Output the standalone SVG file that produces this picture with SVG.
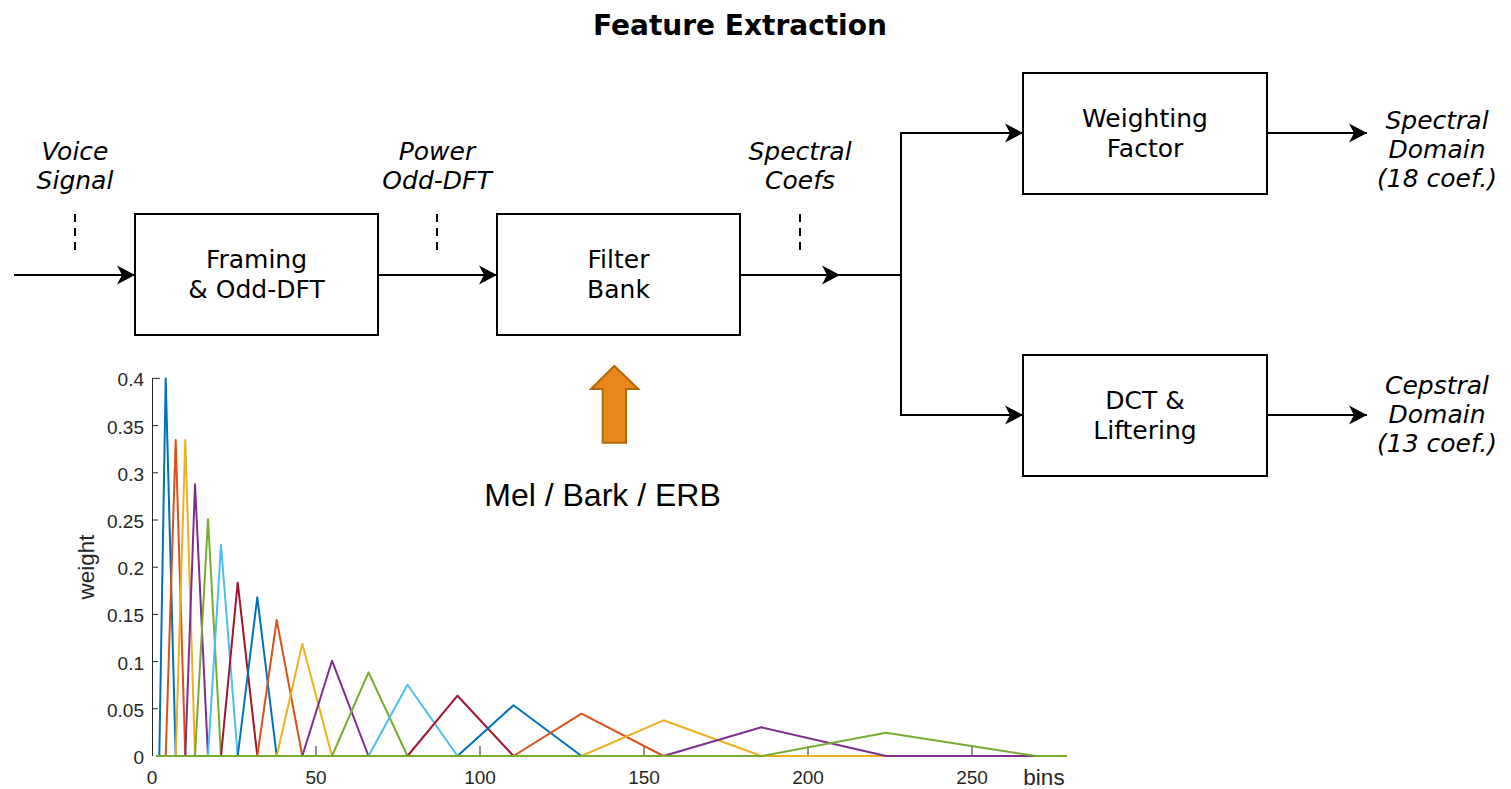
<svg xmlns="http://www.w3.org/2000/svg" width="1511" height="789" viewBox="0 0 1511 789">
<style>
.box{fill:#fff;stroke:#000;stroke-width:2}
.bt{font-family:"DejaVu Sans",Verdana,sans-serif;font-size:25px;text-anchor:middle;fill:#000}
.it{font-family:"DejaVu Sans",Verdana,sans-serif;font-size:25px;font-style:italic;text-anchor:middle;fill:#000}
.con{fill:none;stroke:#000;stroke-width:2}
.dash{fill:none;stroke:#000;stroke-width:2;stroke-dasharray:8 6}
.ax{fill:none;stroke:#262626;stroke-width:1}
.tl{font-family:"Liberation Sans",Arial,sans-serif;font-size:19px;fill:#262626}
.al{font-family:"Liberation Sans",Arial,sans-serif;font-size:22.5px;fill:#262626;text-anchor:middle}
.f{fill:none;stroke-width:2;stroke-linejoin:round}
</style>
<defs>
<marker id="ah" markerUnits="userSpaceOnUse" markerWidth="20" markerHeight="20" refX="18" refY="10" orient="auto">
<path d="M0,0.5 L18,10 L0,19.5 L5,10 Z" fill="#000"/>
</marker>
</defs>
<rect width="1511" height="789" fill="#fff"/>
<text x="740" y="35" font-family="'DejaVu Sans',Verdana,sans-serif" font-size="28" font-weight="bold" text-anchor="middle">Feature Extraction</text>

<g id="connectors">
<line class="con" x1="14" y1="275" x2="135" y2="275" marker-end="url(#ah)"/>
<line class="con" x1="378" y1="275" x2="497" y2="275" marker-end="url(#ah)"/>
<line class="con" x1="740" y1="275" x2="840" y2="275" marker-end="url(#ah)"/>
<polyline class="con" points="838,275 901,275"/>
<polyline class="con" points="901,275 901,133 1023,133" marker-end="url(#ah)"/>
<polyline class="con" points="901,275 901,415 1023,415" marker-end="url(#ah)"/>
<line class="con" x1="1267" y1="133" x2="1367" y2="133" marker-end="url(#ah)"/>
<line class="con" x1="1267" y1="415" x2="1367" y2="415" marker-end="url(#ah)"/>
<line class="dash" x1="75" y1="214" x2="75" y2="255"/>
<line class="dash" x1="437" y1="214" x2="437" y2="255"/>
<line class="dash" x1="800" y1="214" x2="800" y2="255"/>
</g>

<g id="framing">
<rect class="box" x="135" y="214" width="243" height="121"/>
<text class="bt" x="256.5" y="268">Framing</text>
<text class="bt" x="256.5" y="298">&amp; Odd-DFT</text>
</g>
<g id="filterbank">
<rect class="box" x="497" y="214" width="243" height="121"/>
<text class="bt" x="618.5" y="268">Filter</text>
<text class="bt" x="618.5" y="298">Bank</text>
</g>
<g id="weighting">
<rect class="box" x="1023" y="73" width="244" height="121"/>
<text class="bt" x="1145" y="127">Weighting</text>
<text class="bt" x="1145" y="157">Factor</text>
</g>
<g id="dct">
<rect class="box" x="1023" y="355" width="244" height="121"/>
<text class="bt" x="1145" y="409">DCT &amp;</text>
<text class="bt" x="1145" y="439">Liftering</text>
</g>

<g id="label-voice">
<text class="it" x="75" y="160">Voice</text>
<text class="it" x="75" y="189">Signal</text>
</g>
<g id="label-power">
<text class="it" x="437" y="160">Power</text>
<text class="it" x="437" y="189">Odd-DFT</text>
</g>
<g id="label-spectral-coefs">
<text class="it" x="800" y="160">Spectral</text>
<text class="it" x="800" y="189">Coefs</text>
</g>
<g id="label-spectral-domain">
<text class="it" x="1437" y="129">Spectral</text>
<text class="it" x="1437" y="158">Domain</text>
<text class="it" x="1437" y="187">(18 coef.)</text>
</g>
<g id="label-cepstral-domain">
<text class="it" x="1437" y="394">Cepstral</text>
<text class="it" x="1437" y="423">Domain</text>
<text class="it" x="1437" y="452">(13 coef.)</text>
</g>

<g id="scale-arrow">
<path d="M614.3,366 L638.3,389 L626,389 L626,442.7 L602.7,442.7 L602.7,389 L591,389 Z" fill="#e8881b" stroke="#b46504" stroke-width="2" stroke-linejoin="miter"/>
<text x="602.5" y="506" font-family="'Liberation Sans',Arial,sans-serif" font-size="32" text-anchor="middle" fill="#000">Mel / Bark / ERB</text>
</g>

<g id="chart">
<line class="ax" x1="152.5" y1="378" x2="152.5" y2="756"/>
<g class="ax">
<line x1="152.5" y1="378.4" x2="160" y2="378.4"/>
<line x1="152.5" y1="425.6" x2="158" y2="425.6"/>
<line x1="152.5" y1="472.8" x2="158" y2="472.8"/>
<line x1="152.5" y1="520" x2="158" y2="520"/>
<line x1="152.5" y1="567.2" x2="158" y2="567.2"/>
<line x1="152.5" y1="614.4" x2="158" y2="614.4"/>
<line x1="152.5" y1="661.6" x2="158" y2="661.6"/>
<line x1="152.5" y1="708.8" x2="158" y2="708.8"/>
<line x1="316" y1="746" x2="316" y2="756"/>
<line x1="480" y1="746" x2="480" y2="756"/>
<line x1="644" y1="746" x2="644" y2="756"/>
<line x1="808" y1="746" x2="808" y2="756"/>
<line x1="972" y1="746" x2="972" y2="756"/>
</g>
<g class="tl" text-anchor="end">
<text x="144" y="386">0.4</text>
<text x="144" y="433.5">0.35</text>
<text x="144" y="480.5">0.3</text>
<text x="144" y="528">0.25</text>
<text x="144" y="575">0.2</text>
<text x="144" y="622">0.15</text>
<text x="144" y="669.5">0.1</text>
<text x="144" y="716.5">0.05</text>
<text x="144" y="764">0</text>
</g>
<g class="tl" text-anchor="middle">
<text x="152" y="784">0</text>
<text x="316" y="784">50</text>
<text x="480" y="784">100</text>
<text x="644" y="784">150</text>
<text x="808" y="784">200</text>
<text x="972" y="784">250</text>
</g>
<text class="al" x="1044" y="785">bins</text>
<text class="al" transform="translate(94,567) rotate(-90)">weight</text>

<polyline class="f" stroke="#0072bd" points="156,756 159.3,756 165.7,378.4 175.7,756 1067,756"/>
<polyline class="f" stroke="#d95319" points="156,756 165.7,756 175.7,440 185.3,756 1067,756"/>
<polyline class="f" stroke="#edb120" points="156,756 175.7,756 185.3,440 195,756 1067,756"/>
<polyline class="f" stroke="#7e2f8e" points="156,756 185.3,756 195,484.3 208,756 1067,756"/>
<polyline class="f" stroke="#77ac30" points="156,756 195,756 208,519.3 221,756 1067,756"/>
<polyline class="f" stroke="#4dbeee" points="156,756 208,756 221,545 237.7,756 1067,756"/>
<polyline class="f" stroke="#a2142f" points="156,756 221,756 237.7,582.7 257.3,756 1067,756"/>
<polyline class="f" stroke="#0072bd" points="156,756 237.7,756 257.3,597.3 276.7,756 1067,756"/>
<polyline class="f" stroke="#d95319" points="156,756 257.3,756 276.7,620 302.3,756 1067,756"/>
<polyline class="f" stroke="#edb120" points="156,756 276.7,756 302.3,643.7 332,756 1067,756"/>
<polyline class="f" stroke="#7e2f8e" points="156,756 302.3,756 332,660.7 368.5,756 1067,756"/>
<polyline class="f" stroke="#77ac30" points="156,756 332,756 368.5,672.3 407.5,756 1067,756"/>
<polyline class="f" stroke="#4dbeee" points="156,756 368.5,756 407.5,684.7 457.5,756 1067,756"/>
<polyline class="f" stroke="#a2142f" points="156,756 407.5,756 457.5,695.7 513.5,756 1067,756"/>
<polyline class="f" stroke="#0072bd" points="156,756 457.5,756 513.5,705.3 581.5,756 1067,756"/>
<polyline class="f" stroke="#d95319" points="156,756 513.5,756 581.5,713.7 663.5,756 1067,756"/>
<polyline class="f" stroke="#edb120" points="156,756 581.5,756 663.5,720.3 761.5,756 1067,756"/>
<polyline class="f" stroke="#7e2f8e" points="156,756 663.5,756 761.5,727.3 886,756 1067,756"/>
<polyline class="f" stroke="#77ac30" points="156,756 761.5,756 886,732.7 1036,756 1067,756"/>
</g>
</svg>
